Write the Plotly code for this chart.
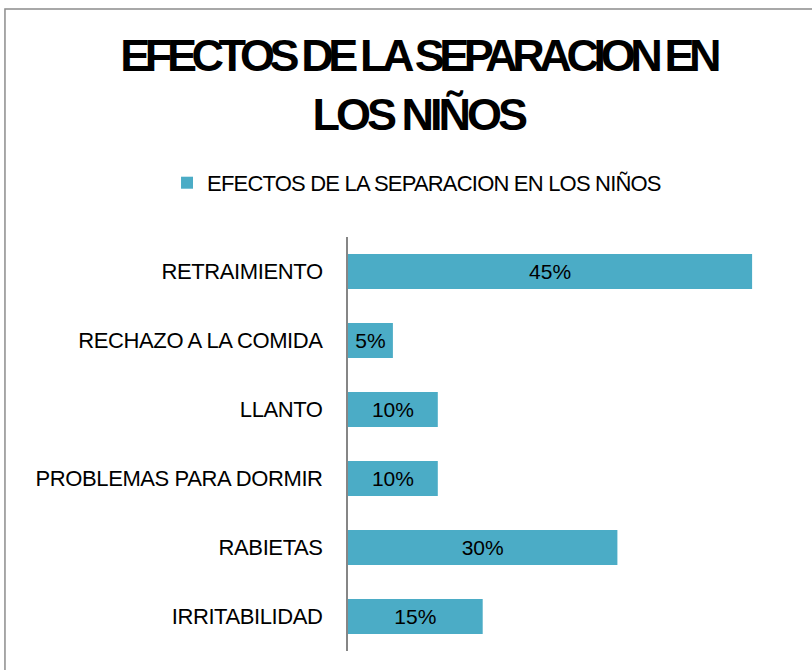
import plotly.graph_objects as go

categories = ["RETRAIMIENTO", "RECHAZO A LA COMIDA", "LLANTO",
              "PROBLEMAS PARA DORMIR", "RABIETAS", "IRRITABILIDAD"]
values = [0.45, 0.05, 0.10, 0.10, 0.30, 0.15]
labels = ["45%", "5%", "10%", "10%", "30%", "15%"]
series_name = "EFECTOS DE LA SEPARACION EN LOS NIÑOS"
title_lines = ["EFECTOS DE LA SEPARACION EN", "LOS NIÑOS"]

FONT = "Liberation Sans, Arial, Helvetica, sans-serif"

fig = go.Figure(go.Bar(
    y=categories, x=values, orientation="h", name=series_name,
    marker=dict(color="#4BACC6", line=dict(width=0)),
    text=labels, textposition="inside", insidetextanchor="middle",
    constraintext="none",
    textfont=dict(family=FONT, size=21, color="#000000"),
    showlegend=True,
))

fig.update_layout(
    width=812, height=670, autosize=False,
    margin=dict(l=348, r=15, t=237, b=19),
    paper_bgcolor="white", plot_bgcolor="white",
    bargap=0.49,
    title=dict(text="<b>" + "<br>".join(title_lines) + "</b>",
               xref="container", yref="container",
               x=0.515, xanchor="center", y=0.894, yanchor="top",
               font=dict(family=FONT, size=45, color="#000000")),
    legend=dict(orientation="h", xref="container", yref="container",
                x=0.2057, xanchor="left", y=0.727, yanchor="middle",
                font=dict(family=FONT, size=22, color="#000000"),
                itemwidth=30, bgcolor="rgba(0,0,0,0)"),
    xaxis=dict(range=[0, 0.5], showgrid=False, zeroline=False, showticklabels=False,
               showline=False, ticks=""),
    yaxis=dict(autorange="reversed", showgrid=False, zeroline=False,
               showline=True, linecolor="#868686", linewidth=2,
               ticks="", ticklabelstandoff=19,
               tickfont=dict(family=FONT, size=22, color="#000000")),
    shapes=[dict(type="rect", xref="paper", yref="paper",
                 x0=-0.764, x1=1.2, y0=-0.2, y1=1.5507,
                 line=dict(color="#8C8C8C", width=1.5), layer="below")],
)

post = """
document.body.style.margin = '0';
var gd = document.getElementById('{plot_id}');
var lines = gd.querySelectorAll('.gtitle tspan.line');
if (lines.length >= 2) { lines[0].style.letterSpacing = '-5.4px'; lines[1].style.letterSpacing = '-4px'; }
else { gd.querySelectorAll('.gtitle').forEach(function(e){ e.style.letterSpacing = '-5px'; }); }
gd.querySelectorAll('.legendtext').forEach(function(e){ e.style.letterSpacing = '-0.8px'; });
gd.querySelectorAll('.ytick text').forEach(function(e){ e.style.letterSpacing = '-0.4px'; });
"""

fig.write_html("out.html", post_script=post, config={"displayModeBar": False})
